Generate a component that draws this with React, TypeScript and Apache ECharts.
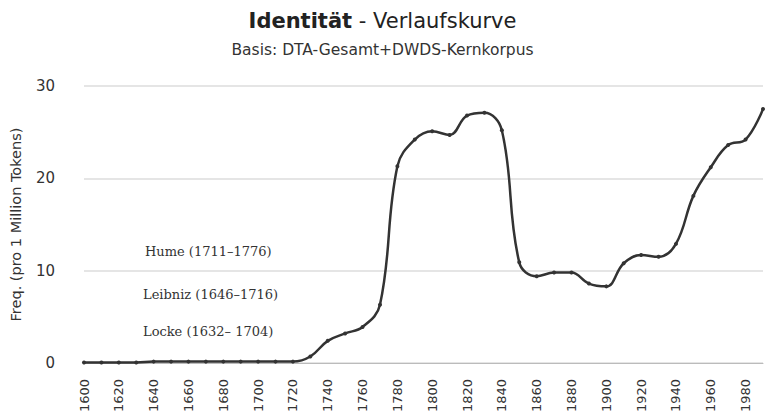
import React, { useEffect, useRef } from "react";
import * as echarts from "echarts";

const years: string[] = [];
for (let y = 1600; y <= 1990; y += 10) years.push(String(y));

const freq = [
  0.05, 0.05, 0.05, 0.05, 0.15, 0.15, 0.15, 0.15, 0.15, 0.15,
  0.15, 0.15, 0.15, 0.7, 2.4, 3.2, 3.9, 6.3, 21.3, 24.2,
  25.1, 24.7, 26.8, 27.1, 25.2, 10.9, 9.4, 9.8, 9.8, 8.6,
  8.3, 10.8, 11.7, 11.5, 12.9, 18.1, 21.2, 23.6, 24.2, 27.5,
];

const annotations = [
  { text: "Hume (1711–1776)", x: 145, y: 252 },
  { text: "Leibniz (1646–1716)", x: 143, y: 295 },
  { text: "Locke (1632– 1704)", x: 143, y: 332 },
];

export default function App() {
  const ref = useRef<HTMLDivElement>(null);
  useEffect(() => {
    if (!ref.current) return;
    const chart = echarts.init(ref.current, undefined, { renderer: "svg" });
    chart.setOption({
      animation: false,
      backgroundColor: "#ffffff",
      title: {
        text: "{b|Identität}{n| - Verlaufskurve}",
        subtext: "Basis: DTA-Gesamt+DWDS-Kernkorpus",
        left: "center",
        top: 5,
        itemGap: 11,
        textStyle: {
          rich: {
            b: { fontFamily: "DejaVu Sans", fontWeight: "bold", fontSize: 21, color: "#222" },
            n: { fontFamily: "DejaVu Sans", fontWeight: "normal", fontSize: 21, color: "#222" },
          },
        },
        subtextStyle: { fontFamily: "DejaVu Sans", fontSize: 15.5, color: "#333" },
      },
      grid: { left: 82, right: 2, top: 86, bottom: 54, containLabel: false },
      xAxis: {
        type: "category",
        data: years,
        boundaryGap: false,
        axisLine: { show: true, lineStyle: { color: "#bbbbbb", width: 1 } },
        axisTick: { show: false },
        axisLabel: {
          rotate: 90,
          interval: 1,
          margin: 16,
          fontFamily: "DejaVu Sans",
          fontSize: 13,
          color: "#333",
        },
      },
      yAxis: {
        type: "value",
        min: 0,
        max: 30,
        interval: 10,
        name: "Freq. (pro 1 Million Tokens)",
        nameLocation: "middle",
        nameGap: 61,
        nameTextStyle: { fontFamily: "DejaVu Sans", fontSize: 14.5, color: "#333" },
        axisLine: { show: false },
        axisTick: { show: false },
        axisLabel: { margin: 29, fontFamily: "DejaVu Sans", fontSize: 15, color: "#333" },
        splitLine: { lineStyle: { color: "#dddddd", width: 1.5 } },
      },
      series: [
        {
          type: "line",
          data: freq,
          smooth: 0.4,
          symbol: "circle",
          symbolSize: 4,
          lineStyle: { color: "#333333", width: 2.5 },
          itemStyle: { color: "#333333" },
          z: 3,
        },
      ],
      graphic: annotations.map((a) => ({
        type: "text",
        left: a.x,
        top: a.y - 7,
        style: {
          text: a.text,
          font: "13px 'DejaVu Serif'",
          fill: "#333",
        },
      })),
    });
    return () => chart.dispose();
  }, []);
  return <div ref={ref} style={{ width: 765, height: 417, position: "absolute", left: 0, top: 0 }} />;
}
